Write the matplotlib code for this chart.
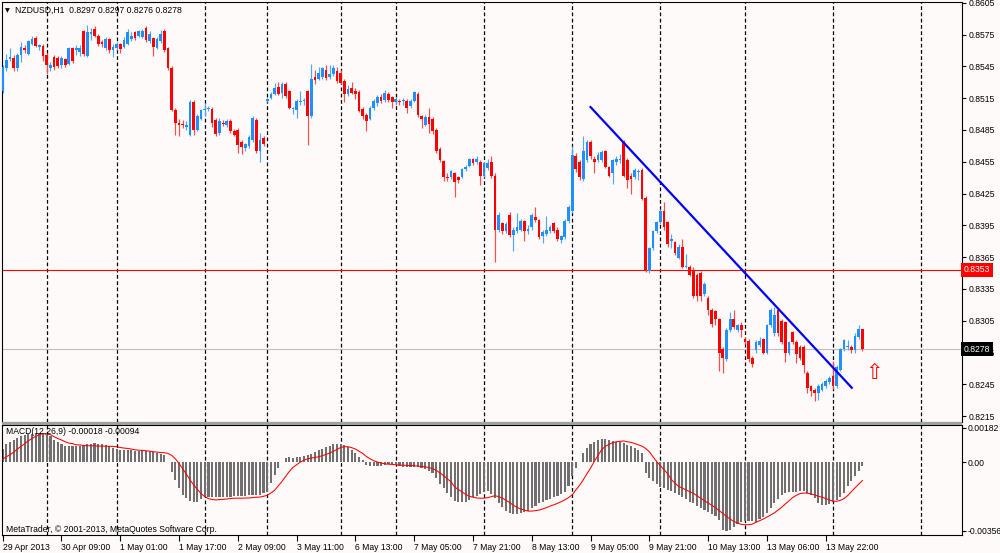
import matplotlib
matplotlib.use('Agg')
import matplotlib.pyplot as plt
import numpy as np

# NZDUSD H1 candles, prices in pips (x 0.0001)
opens = [8522, 8543, 8552, 8553, 8543, 8556, 8562, 8557, 8566, 8572,
         8563, 8564, 8556, 8543, 8554, 8553, 8546, 8552, 8547, 8562,
         8560, 8559, 8578, 8555, 8576, 8580, 8574, 8568, 8562, 8571,
         8560, 8562, 8566, 8563, 8566, 8571, 8577, 8574, 8573, 8581,
         8569, 8572, 8562, 8569, 8578, 8562, 8543, 8504, 8492, 8491,
         8488, 8480, 8511, 8485, 8495, 8504, 8505, 8505, 8494, 8482,
         8492, 8490, 8493, 8484, 8485, 8474, 8468, 8470, 8476, 8494,
         8465, 8477, 8512, 8515, 8519, 8526, 8520, 8528, 8522, 8505,
         8504, 8511, 8512, 8522, 8498, 8535, 8533, 8535, 8542, 8535,
         8538, 8541, 8539, 8531, 8519, 8525, 8522, 8521, 8505, 8499,
         8495, 8506, 8510, 8516, 8513, 8519, 8516, 8511, 8512, 8512,
         8512, 8508, 8512, 8519, 8498, 8490, 8497, 8495, 8485, 8467,
         8456, 8441, 8441, 8444, 8441, 8441, 8448, 8451, 8458, 8455,
         8455, 8442, 8449, 8455, 8442, 8391, 8397, 8390, 8405, 8386,
         8390, 8391, 8399, 8390, 8393, 8403, 8400, 8385, 8387, 8390,
         8397, 8391, 8381, 8384, 8399, 8409, 8460, 8455, 8439, 8457,
         8474, 8458, 8457, 8457, 8465, 8450, 8444, 8455, 8457, 8474,
         8457, 8442, 8441, 8445, 8447, 8421, 8352, 8374, 8390, 8398,
         8409, 8398, 8380, 8379, 8364, 8375, 8356, 8356, 8353, 8348,
         8350, 8330, 8326, 8315, 8314, 8307, 8278, 8269, 8296, 8307,
         8296, 8301, 8288, 8286, 8270, 8277, 8282, 8288, 8275, 8301,
         8293, 8315, 8305, 8304, 8275, 8294, 8285, 8280, 8280, 8256,
         8243, 8240, 8237, 8240, 8243, 8247, 8253, 8243, 8259, 8278,
         8280, 8280, 8277, 8290, 8297]
highs = [8546, 8557, 8562, 8556, 8558, 8568, 8565, 8570, 8574, 8574,
         8566, 8566, 8558, 8549, 8556, 8555, 8555, 8553, 8563, 8563,
         8565, 8565, 8579, 8584, 8581, 8583, 8576, 8570, 8573, 8572,
         8566, 8568, 8567, 8573, 8580, 8577, 8578, 8579, 8580, 8583,
         8578, 8573, 8573, 8579, 8580, 8563, 8545, 8506, 8495, 8494,
         8493, 8513, 8513, 8500, 8505, 8510, 8508, 8507, 8496, 8496,
         8494, 8495, 8495, 8486, 8487, 8476, 8473, 8480, 8498, 8496,
         8482, 8479, 8515, 8521, 8529, 8530, 8530, 8530, 8523, 8507,
         8514, 8522, 8515, 8523, 8547, 8542, 8544, 8544, 8546, 8546,
         8546, 8544, 8542, 8533, 8527, 8530, 8525, 8523, 8507, 8501,
         8508, 8514, 8518, 8519, 8523, 8521, 8517, 8516, 8514, 8515,
         8514, 8514, 8522, 8521, 8499, 8499, 8506, 8497, 8487, 8469,
         8457, 8444, 8447, 8445, 8442, 8449, 8452, 8459, 8459, 8460,
         8457, 8455, 8458, 8460, 8444, 8408, 8398, 8398, 8408, 8393,
         8407, 8401, 8400, 8395, 8407, 8412, 8401, 8391, 8404, 8395,
         8398, 8393, 8386, 8401, 8414, 8470, 8463, 8457, 8479, 8476,
         8476, 8460, 8464, 8466, 8466, 8451, 8458, 8460, 8462, 8476,
         8459, 8444, 8449, 8448, 8449, 8423, 8375, 8391, 8399, 8410,
         8417, 8399, 8387, 8380, 8377, 8382, 8368, 8358, 8356, 8350,
         8352, 8342, 8328, 8317, 8315, 8308, 8280, 8298, 8313, 8315,
         8302, 8304, 8290, 8288, 8272, 8287, 8290, 8289, 8302, 8317,
         8318, 8317, 8307, 8305, 8286, 8295, 8287, 8282, 8282, 8258,
         8244, 8242, 8245, 8247, 8250, 8253, 8267, 8263, 8279, 8288,
         8287, 8282, 8293, 8301, 8297]
lows = [8520, 8541, 8550, 8541, 8541, 8549, 8558, 8556, 8565, 8563,
        8560, 8550, 8538, 8541, 8542, 8543, 8543, 8544, 8546, 8548,
        8556, 8555, 8555, 8554, 8570, 8573, 8564, 8563, 8560, 8558,
        8554, 8560, 8558, 8562, 8565, 8569, 8570, 8573, 8572, 8568,
        8567, 8555, 8561, 8567, 8559, 8542, 8503, 8480, 8479, 8487,
        8485, 8479, 8480, 8484, 8494, 8498, 8503, 8488, 8479, 8480,
        8489, 8488, 8482, 8479, 8463, 8462, 8465, 8468, 8474, 8463,
        8455, 8470, 8511, 8514, 8518, 8518, 8515, 8515, 8505, 8500,
        8496, 8509, 8509, 8471, 8496, 8528, 8532, 8533, 8532, 8533,
        8536, 8529, 8528, 8511, 8517, 8519, 8514, 8502, 8495, 8484,
        8494, 8504, 8508, 8510, 8511, 8511, 8506, 8509, 8509, 8509,
        8501, 8506, 8511, 8497, 8487, 8489, 8482, 8481, 8463, 8455,
        8437, 8437, 8439, 8422, 8435, 8440, 8446, 8450, 8452, 8453,
        8433, 8441, 8447, 8440, 8360, 8389, 8387, 8388, 8384, 8371,
        8388, 8390, 8380, 8387, 8391, 8398, 8382, 8378, 8385, 8388,
        8388, 8380, 8378, 8382, 8397, 8407, 8445, 8438, 8437, 8455,
        8458, 8444, 8455, 8455, 8449, 8441, 8434, 8452, 8454, 8441,
        8430, 8425, 8439, 8438, 8419, 8351, 8350, 8372, 8388, 8396,
        8391, 8375, 8374, 8367, 8363, 8355, 8355, 8347, 8326, 8324,
        8324, 8328, 8310, 8299, 8301, 8258, 8256, 8267, 8294, 8297,
        8294, 8290, 8283, 8266, 8261, 8275, 8280, 8274, 8274, 8299,
        8291, 8291, 8283, 8266, 8273, 8283, 8265, 8268, 8256, 8237,
        8234, 8229, 8230, 8239, 8242, 8245, 8241, 8242, 8258, 8276,
        8277, 8275, 8275, 8288, 8276]
closes = [8544, 8551, 8554, 8543, 8556, 8563, 8560, 8569, 8571, 8564,
          8565, 8555, 8546, 8546, 8544, 8545, 8553, 8546, 8562, 8550,
          8562, 8562, 8557, 8577, 8577, 8574, 8566, 8566, 8571, 8560,
          8563, 8566, 8561, 8570, 8577, 8574, 8572, 8578, 8578, 8570,
          8576, 8563, 8571, 8576, 8560, 8543, 8504, 8492, 8490, 8490,
          8490, 8511, 8485, 8498, 8504, 8505, 8506, 8492, 8481, 8493,
          8491, 8493, 8484, 8480, 8471, 8469, 8472, 8478, 8496, 8465,
          8476, 8472, 8514, 8519, 8525, 8519, 8528, 8517, 8506, 8506,
          8512, 8512, 8513, 8498, 8533, 8532, 8539, 8543, 8534, 8538,
          8543, 8531, 8529, 8519, 8524, 8520, 8519, 8503, 8498, 8493,
          8506, 8512, 8516, 8512, 8520, 8513, 8511, 8514, 8511, 8513,
          8506, 8512, 8521, 8499, 8495, 8497, 8491, 8484, 8465, 8457,
          8441, 8440, 8446, 8436, 8438, 8448, 8450, 8458, 8454, 8458,
          8442, 8454, 8454, 8442, 8391, 8405, 8390, 8396, 8386, 8391,
          8393, 8399, 8390, 8392, 8405, 8400, 8384, 8389, 8391, 8393,
          8390, 8382, 8385, 8399, 8412, 8461, 8448, 8441, 8465, 8474,
          8460, 8455, 8461, 8464, 8450, 8442, 8457, 8458, 8458, 8442,
          8438, 8439, 8447, 8446, 8420, 8353, 8374, 8390, 8398, 8409,
          8393, 8377, 8382, 8369, 8375, 8356, 8357, 8348, 8328, 8328,
          8328, 8340, 8315, 8302, 8307, 8275, 8270, 8296, 8307, 8299,
          8301, 8296, 8285, 8269, 8264, 8285, 8286, 8275, 8301, 8315,
          8310, 8293, 8285, 8275, 8285, 8285, 8274, 8270, 8263, 8242,
          8239, 8237, 8243, 8245, 8248, 8251, 8243, 8261, 8278, 8287,
          8281, 8277, 8291, 8297, 8278]

# MACD(12,26,9) main (histogram) and signal, in units of 0.00001
macd_main = [70, 98, 108, 115, 127, 136, 143, 148, 150, 150,
             153, 150, 145, 136, 119, 108, 96, 87, 84, 84,
             84, 84, 91, 94, 98, 101, 98, 96, 92, 85,
             75, 70, 66, 66, 63, 63, 61, 61, 63, 61,
             58, 56, 49, 45, 37, 5, -47, -91, -134, -169,
             -187, -199, -204, -204, -192, -178, -178, -181, -181, -178,
             -178, -178, -178, -174, -174, -174, -174, -171, -171, -167,
             -167, -157, -152, -108, -64, -30, 5, 23, 26, 24,
             28, 31, 35, 38, 45, 52, 63, 70, 78, 87,
             96, 98, 98, 91, 80, 66, 49, 31, 14, -12,
             -17, -17, -17, -17, -12, -7, -7, -12, -17, -21,
             -21, -21, -21, -26, -30, -35, -42, -56, -82, -110,
             -135, -160, -180, -200, -206, -206, -204, -195, -181, -174,
             -164, -152, -150, -164, -187, -213, -234, -251, -262, -268,
             -270, -265, -260, -251, -239, -225, -213, -204, -195, -188,
             -181, -174, -166, -152, -122, -73, -30, 3, 49, 75,
             98, 108, 115, 122, 122, 115, 110, 108, 108, 101,
             92, 84, 75, 63, 49, -56, -82, -99, -113, -126,
             -134, -143, -148, -157, -169, -181, -192, -204, -213, -227,
             -239, -248, -256, -268, -279, -300, -352, -356, -349, -335,
             -321, -309, -303, -303, -305, -309, -296, -282, -265, -239,
             -213, -192, -169, -157, -152, -152, -152, -146, -150, -157,
             -169, -187, -213, -221, -221, -216, -204, -195, -178, -157,
             -125, -95, -70, -45, -18]
macd_signal = [17, 30, 40, 54, 70, 84, 98, 113, 125, 136,
               145, 150, 148, 145, 134, 125, 117, 108, 101, 98,
               92, 91, 89, 87, 87, 87, 85, 85, 85, 84,
               84, 82, 78, 75, 73, 70, 66, 64, 63, 61,
               59, 56, 54, 52, 51, 47, 37, 19, -5, -33,
               -61, -91, -117, -141, -162, -178, -188, -193, -195, -193,
               -192, -190, -188, -186, -186, -186, -185, -185, -183, -181,
               -180, -176, -171, -159, -145, -122, -99, -73, -47, -26,
               -12, 2, 12, 19, 23, 26, 30, 35, 42, 49,
               58, 68, 78, 82, 82, 77, 70, 58, 47, 31,
               19, 9, 2, -3, -7, -9, -10, -12, -14, -14,
               -16, -16, -17, -19, -21, -23, -26, -33, -40, -55,
               -68, -85, -100, -127, -141, -153, -166, -176, -181, -185,
               -186, -186, -183, -178, -173, -178, -186, -197, -209, -223,
               -234, -242, -248, -253, -253, -251, -248, -242, -235, -227,
               -220, -213, -204, -195, -183, -169, -143, -119, -91, -59,
               -30, 5, 35, 66, 84, 94, 103, 108, 110, 112,
               108, 105, 99, 92, 85, 73, 56, 30, 5, -17,
               -38, -59, -89, -108, -125, -134, -143, -152, -160, -174,
               -186, -199, -211, -223, -235, -251, -265, -281, -295, -307,
               -315, -322, -324, -324, -321, -312, -303, -295, -284, -274,
               -263, -248, -234, -216, -200, -183, -171, -162, -159, -160,
               -164, -169, -176, -181, -188, -195, -202, -202, -197, -188,
               -172, -152, -132, -113, -94]

# day separators (bar index), time labels every 16 bars
separators = [12, 31, 55, 72, 92, 107, 131, 155, 179, 202, 226, 250]
time_labels = ['29 Apr 2013', '30 Apr 09:00', '1 May 01:00', '1 May 17:00',
               '2 May 09:00', '3 May 11:00', '6 May 13:00', '7 May 05:00',
               '7 May 21:00', '8 May 13:00', '9 May 05:00', '9 May 21:00',
               '10 May 13:00', '13 May 06:00', '13 May 22:00']
price_ticks = [0.8605, 0.8575, 0.8545, 0.8515, 0.8485, 0.8455, 0.8425, 0.8395,
               0.8365, 0.8335, 0.8305, 0.8275, 0.8245, 0.8215]

# drawn objects
trend_bars = [160, 231.1]
trend_prices = [0.85066, 0.82418]
level_price = 0.8353
bid_price = 0.8278
arrow_bar = 237.2
arrow_price = 0.8256

BG = '#FFFAFA'
BULL = '#1E90FF'
BEAR = '#FF0000'
plt.rcParams['font.family'] = ['Liberation Sans', 'DejaVu Sans']
FS = 6.2

o = np.array(opens) / 10000
h = np.array(highs) / 10000
l = np.array(lows) / 10000
c = np.array(closes) / 10000
x = np.arange(len(o))
up = c >= o

W, H = 1000, 553
fig = plt.figure(figsize=(10, 5.53), dpi=100, facecolor=BG)


def px_axes(x0, y0, x1, y1):
    a = fig.add_axes([x0 / W, 1 - y1 / H, (x1 - x0) / W, (y1 - y0) / H])
    a.set_facecolor(BG)
    for s in a.spines.values():
        s.set_color('black')
        s.set_linewidth(0.8)
    return a


ax = px_axes(2, 2, 962, 421.5)
ax2 = px_axes(2, 424.5, 962, 535)
xlim = (-0.19, 261.1)

# price panel
wick_col = np.where(up, '#4FA6FF', '#FF4A4A')
ax.vlines(x, l, h, colors=wick_col, linewidth=0.85, zorder=2)
body_lo = np.minimum(o, c)
body_h = np.maximum(np.abs(c - o), 0.0001)
ax.bar(x, body_h, bottom=body_lo, width=0.74,
       color=np.where(up, BULL, BEAR), linewidth=0, zorder=3)

for s in separators:
    ax.axvline(s, color='black', lw=0.9, ls=(0, (3, 2)), zorder=1)
    ax2.axvline(s, color='black', lw=0.9, ls=(0, (3, 2)), zorder=1)

ax.axhline(level_price, color='#FF0000', lw=0.8, zorder=1)
ax.axhline(bid_price, color='#C0C0C0', lw=0.8, zorder=1)
ax.plot(trend_bars, trend_prices, color='#0000FF', lw=1.6, zorder=4)
ax.text(arrow_bar, arrow_price, '\u21e7', color='red', fontsize=15,
        family='DejaVu Sans', ha='center', va='center', zorder=5)

ax.set_xlim(*xlim)
ax.set_ylim(0.820995, 0.860573)
ax.set_xticks([])
ax.yaxis.tick_right()
ax.set_yticks(price_ticks)
ax.set_yticklabels([f'{p:.4f}' for p in price_ticks])
ax.tick_params(axis='y', length=3, width=0.8, pad=1.5, labelsize=FS)

ax.text(1.002, level_price, f'{level_price:.4f}', transform=ax.get_yaxis_transform(),
        color='white', fontsize=FS, va='center', ha='left', clip_on=False, zorder=10,
        bbox=dict(boxstyle='square,pad=0.3', fc='#FF0000', ec='none'))
ax.text(1.002, bid_price, f'{bid_price:.4f}', transform=ax.get_yaxis_transform(),
        color='white', fontsize=FS, va='center', ha='left', clip_on=False, zorder=10,
        bbox=dict(boxstyle='square,pad=0.3', fc='black', ec='none'))

# MACD panel
mm = np.array(macd_main) * 1e-5
ms = np.array(macd_signal) * 1e-5
ax2.bar(x, mm, width=0.58, color='#707070', linewidth=0, zorder=2)
ax2.plot(x, ms, color='#FF0000', lw=0.75, zorder=3)
ax2.set_xlim(*xlim)
ax2.set_ylim(-0.003776, 0.001977)
ax2.yaxis.tick_right()
ax2.set_yticks([0.00182, 0.0, -0.00356])
ax2.set_yticklabels(['0.00182', '0.00', '-0.00356'])
ax2.tick_params(axis='y', length=3, width=0.8, pad=1, labelsize=FS)
ax2.set_xticks(np.arange(len(time_labels)) * 16)
ax2.set_xticklabels(time_labels, ha='left')
ax2.tick_params(axis='x', length=4, width=0.8, pad=1.5, labelsize=FS)

# separator band between the panels
fig.patches.append(plt.Rectangle((2 / W, 1 - 424.5 / H), 960 / W, 3 / H,
                                 transform=fig.transFigure, fc='#A0A0A0', ec='none'))

fig.text(5 / W, 1 - 10.5 / H, '\u25bc', fontsize=4.5, family='DejaVu Sans', va='center')
fig.text(15 / W, 1 - 10 / H, 'NZDUSD,H1  0.8297 0.8297 0.8276 0.8278',
         fontsize=FS, va='center')
fig.text(6 / W, 1 - 432 / H, 'MACD(12,26,9) -0.00018 -0.00094', fontsize=FS, va='center')
fig.text(6 / W, 1 - 529 / H, 'MetaTrader, \u00a9 2001-2013, MetaQuotes Software Corp.',
         fontsize=FS, va='center')

fig.savefig('out.png', dpi=100, facecolor=BG)
